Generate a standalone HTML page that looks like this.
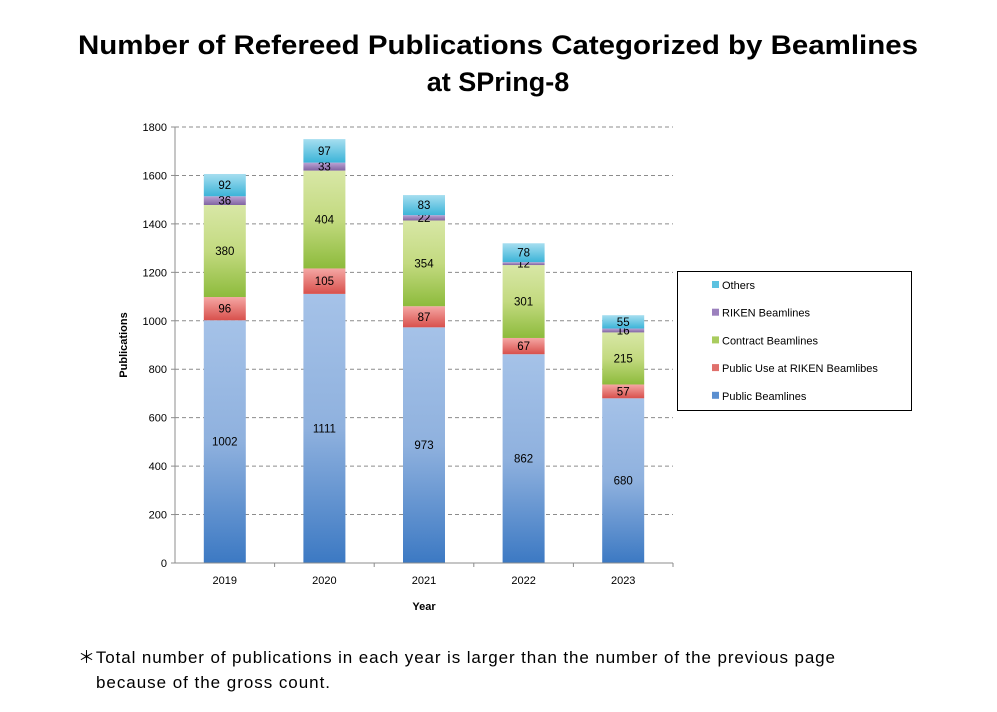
<!DOCTYPE html>
<html><head><meta charset="utf-8"><style>
body{margin:0;background:#fff;}
svg text{font-family:"Liberation Sans","Noto Sans CJK JP",sans-serif;}
</style></head><body>
<svg id="chart" width="997" height="707" xmlns="http://www.w3.org/2000/svg">
<defs>
<linearGradient id="g0" x1="0" y1="0" x2="0" y2="1"><stop offset="0" stop-color="#a5c2e8"/><stop offset="0.5" stop-color="#8fb1de"/><stop offset="1" stop-color="#3c79c3"/></linearGradient>
<linearGradient id="g1" x1="0" y1="0" x2="0" y2="1"><stop offset="0" stop-color="#f5a7a4"/><stop offset="1" stop-color="#d8504c"/></linearGradient>
<linearGradient id="g2" x1="0" y1="0" x2="0" y2="1"><stop offset="0" stop-color="#d8e7a6"/><stop offset="0.5" stop-color="#c3da80"/><stop offset="1" stop-color="#8dbb3c"/></linearGradient>
<linearGradient id="g3" x1="0" y1="0" x2="0" y2="1"><stop offset="0" stop-color="#bba3d3"/><stop offset="1" stop-color="#8064a2"/></linearGradient>
<linearGradient id="g4" x1="0" y1="0" x2="0" y2="1"><stop offset="0" stop-color="#a6def0"/><stop offset="1" stop-color="#3cb4d8"/></linearGradient>
</defs>
<text x="498" y="54" text-anchor="middle" font-size="27" font-weight="bold" textLength="840" lengthAdjust="spacingAndGlyphs">Number of Refereed Publications Categorized by Beamlines</text>
<text x="498" y="91" text-anchor="middle" font-size="27" font-weight="bold">at SPring-8</text>
<g id="plot"></g>
<text transform="translate(127,345) rotate(-90)" text-anchor="middle" font-size="11" font-weight="bold">Publications</text>
<text x="424" y="610" text-anchor="middle" font-size="11" font-weight="bold">Year</text>
<rect x="677.5" y="271.5" width="234" height="139" fill="#fff" stroke="#000" stroke-width="1"/>
<g id="legend"></g>
<text x="78" y="663" font-size="17" textLength="757" lengthAdjust="spacing">＊Total number of publications in each year is larger than the number of the previous page</text>
<text x="96" y="688" font-size="17" textLength="234" lengthAdjust="spacing">because of the gross count.</text>
</svg>
<script>
const years=["2019","2020","2021","2022","2023"];
const publicBL=[1002,1111,973,862,680];
const publicRiken=[96,105,87,67,57];
const contractBL=[380,404,354,301,215];
const rikenBL=[36,33,22,12,16];
const others=[92,97,83,78,55];
const yTicks=[0,200,400,600,800,1000,1200,1400,1600,1800];
const seriesNames=["Public Beamlines","Public Use at RIKEN Beamlibes","Contract Beamlines","RIKEN Beamlines","Others"];
const series=[publicBL,publicRiken,contractBL,rikenBL,others];
const NS="http://www.w3.org/2000/svg";
const plot=document.getElementById('plot');
const x0=175,x1=673,yBase=563,yTop=127,yMax=1800;
const y=v=>yBase-(v/yMax)*(yBase-yTop);
const band=(x1-x0)/years.length;
const xc=i=>x0+band*(i+0.5);
const bw=42;
function mk(tag,attrs){const e=document.createElementNS(NS,tag);for(const k in attrs)e.setAttribute(k,attrs[k]);return e;}
yTicks.forEach(t=>{
  if(t>0){const l=mk('line',{x1:x0,x2:x1,y1:y(t),y2:y(t),stroke:'#8c8c8c','stroke-dasharray':'4,3'});
  
  
  plot.appendChild(l);}
  const tk=mk('line',{x1:x0-4,x2:x0,y1:y(t),y2:y(t),stroke:'#8c8c8c'});
  
  
  plot.appendChild(tk);
  const tx=mk('text',{x:x0-8,y:y(t)+4,'text-anchor':'end','font-size':'11'});
  
  
  tx.textContent=t;plot.appendChild(tx);
});
years.forEach((yr,i)=>{
  let cum=0;
  series.forEach((s,k)=>{
    const v=s[i];
    const r=mk('rect',{x:xc(i)-bw/2,y:y(cum+v),width:bw,height:y(cum)-y(cum+v),fill:'url(#g'+k+')'});
    
    
    plot.appendChild(r);
    const lt=mk('text',{x:xc(i),y:(y(cum)+y(cum+v))/2+4,'text-anchor':'middle','font-size':'11.5'});
    
    
    lt.textContent=v;plot.appendChild(lt);
    cum+=v;
  });
  const xl=mk('text',{x:xc(i),y:584,'text-anchor':'middle','font-size':'11'});
  
  
  xl.textContent=yr;plot.appendChild(xl);
  const xt=mk('line',{x1:x0+band*(i+1),x2:x0+band*(i+1),y1:yBase,y2:yBase+4,stroke:'#8c8c8c'});
  
  
  plot.appendChild(xt);
});
const ax=mk('line',{x1:x0,x2:x0,y1:yTop,y2:yBase,stroke:'#8c8c8c'});


plot.appendChild(ax);
const bx=mk('line',{x1:x0,x2:x1,y1:yBase,y2:yBase,stroke:'#8c8c8c'});


plot.appendChild(bx);
const leg=document.getElementById('legend');
const legColors=['#5b8fd0','#e0706c','#a9cc5e','#9b80bd','#5cc2e0'];
for(let k=4;k>=0;k--){
  const row=4-k, ly=285+row*27.7;
  const sq=mk('rect',{x:712,y:ly-4,width:7,height:7,fill:legColors[k]});
  
  
  leg.appendChild(sq);
  const t=mk('text',{x:722,y:ly+4,'font-size':'11'});
  
  
  t.textContent=seriesNames[k];leg.appendChild(t);
}
</script>
</body></html>
